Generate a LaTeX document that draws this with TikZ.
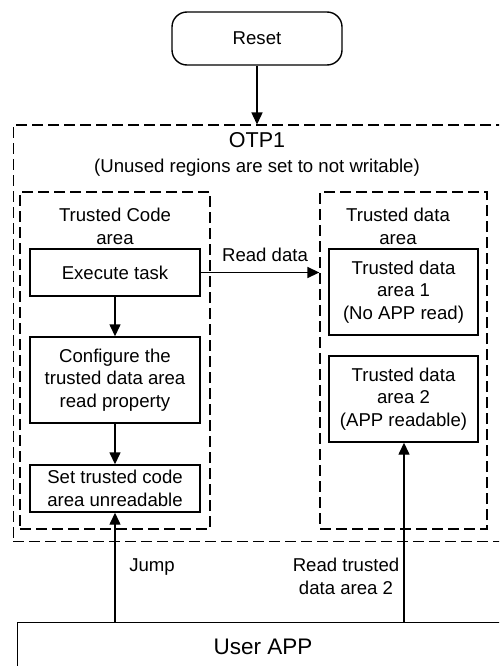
\documentclass[tikz,border=0pt]{standalone}
\usepackage{fontspec}
\setmainfont{Liberation Sans}
\usetikzlibrary{arrows.meta}
\begin{document}
\begin{tikzpicture}[x=1pt,y=-1pt,
  txt/.style={font=\fontsize{18.6}{22.8}\selectfont, align=center, inner sep=0pt},
  solidbox/.style={draw, line width=1.4pt, txt},
  dbox/.style={draw, line width=1.3pt, dash pattern=on 11pt off 5pt, inner sep=0pt},
  arr/.style={line width=1.4pt, -{Triangle[length=12pt,width=11pt]}}
]
\useasboundingbox (0,0) rectangle (499,666);
\clip (0,0) rectangle (499,666);
% Reset
\node[solidbox, rounded corners=15pt, minimum width=170pt, minimum height=53pt] (reset) at (257,38.5) {Reset};
% outer OTP1 (its right side lies on the picture's edge)
\node[dbox, minimum width=487pt, minimum height=416pt, anchor=north west] (otp) at (12.5,124.5) {};
\node[txt, font=\fontsize{21.5}{25}\selectfont] (otptitle) at (257,140) {OTP1};
\node[txt] (unused) at (257,168) {(Unused regions are set to not writable)};
% inner areas
\node[dbox, minimum width=190pt, minimum height=337pt] (codearea) at (115,360.5) {};
\node[dbox, minimum width=167pt, minimum height=337pt] (dataarea) at (403.5,360.5) {};
\node[txt] (codetitle) at (115,226) {Trusted Code\\area};
\node[txt] (datatitle) at (398,226) {Trusted data\\area};
% code boxes
\node[solidbox, minimum width=170pt, minimum height=47pt] (exec) at (115,272.5) {Execute task};
\node[solidbox, minimum width=170pt, minimum height=86pt] (config) at (115,380) {Configure the\\trusted data area\\read property};
\node[solidbox, minimum width=170pt, minimum height=47pt] (setcode) at (115,488.5) {Set trusted code\\area unreadable};
% data boxes
\node[solidbox, minimum width=149pt, minimum height=86pt] (tda1) at (403.5,292) {Trusted data\\area 1\\(No APP read)};
\node[solidbox, minimum width=149pt, minimum height=86pt] (tda2) at (403.5,399) {Trusted data\\area 2\\(APP readable)};
% user app
\node[solidbox, minimum width=520pt, minimum height=80pt, anchor=north west] (app) at (17,622) {};
\node[txt, font=\fontsize{22.5}{26}\selectfont] (apptext) at (263,647) {User APP};
% arrows
\draw[arr] (reset.south) -- (reset.south |- otp.north);
\draw[arr] (exec.east) -- (dataarea.west |- exec.east);
\node[txt] (readdata) at (265,255) {Read data};
\draw[arr] (exec.south) -- (config.north);
\draw[arr] (config.south) -- (setcode.north);
\coordinate (jumpstart) at (115,622);
\draw[arr] (jumpstart) -- (setcode.south);
\node[txt] (jump) at (152,567) {Jump};
\coordinate (readstart) at (404,622);
\draw[arr] (readstart) -- (tda2.south -| readstart);
\node[txt] (readtrusted) at (346,576) {Read trusted\\data area 2};
\end{tikzpicture}
\end{document}
